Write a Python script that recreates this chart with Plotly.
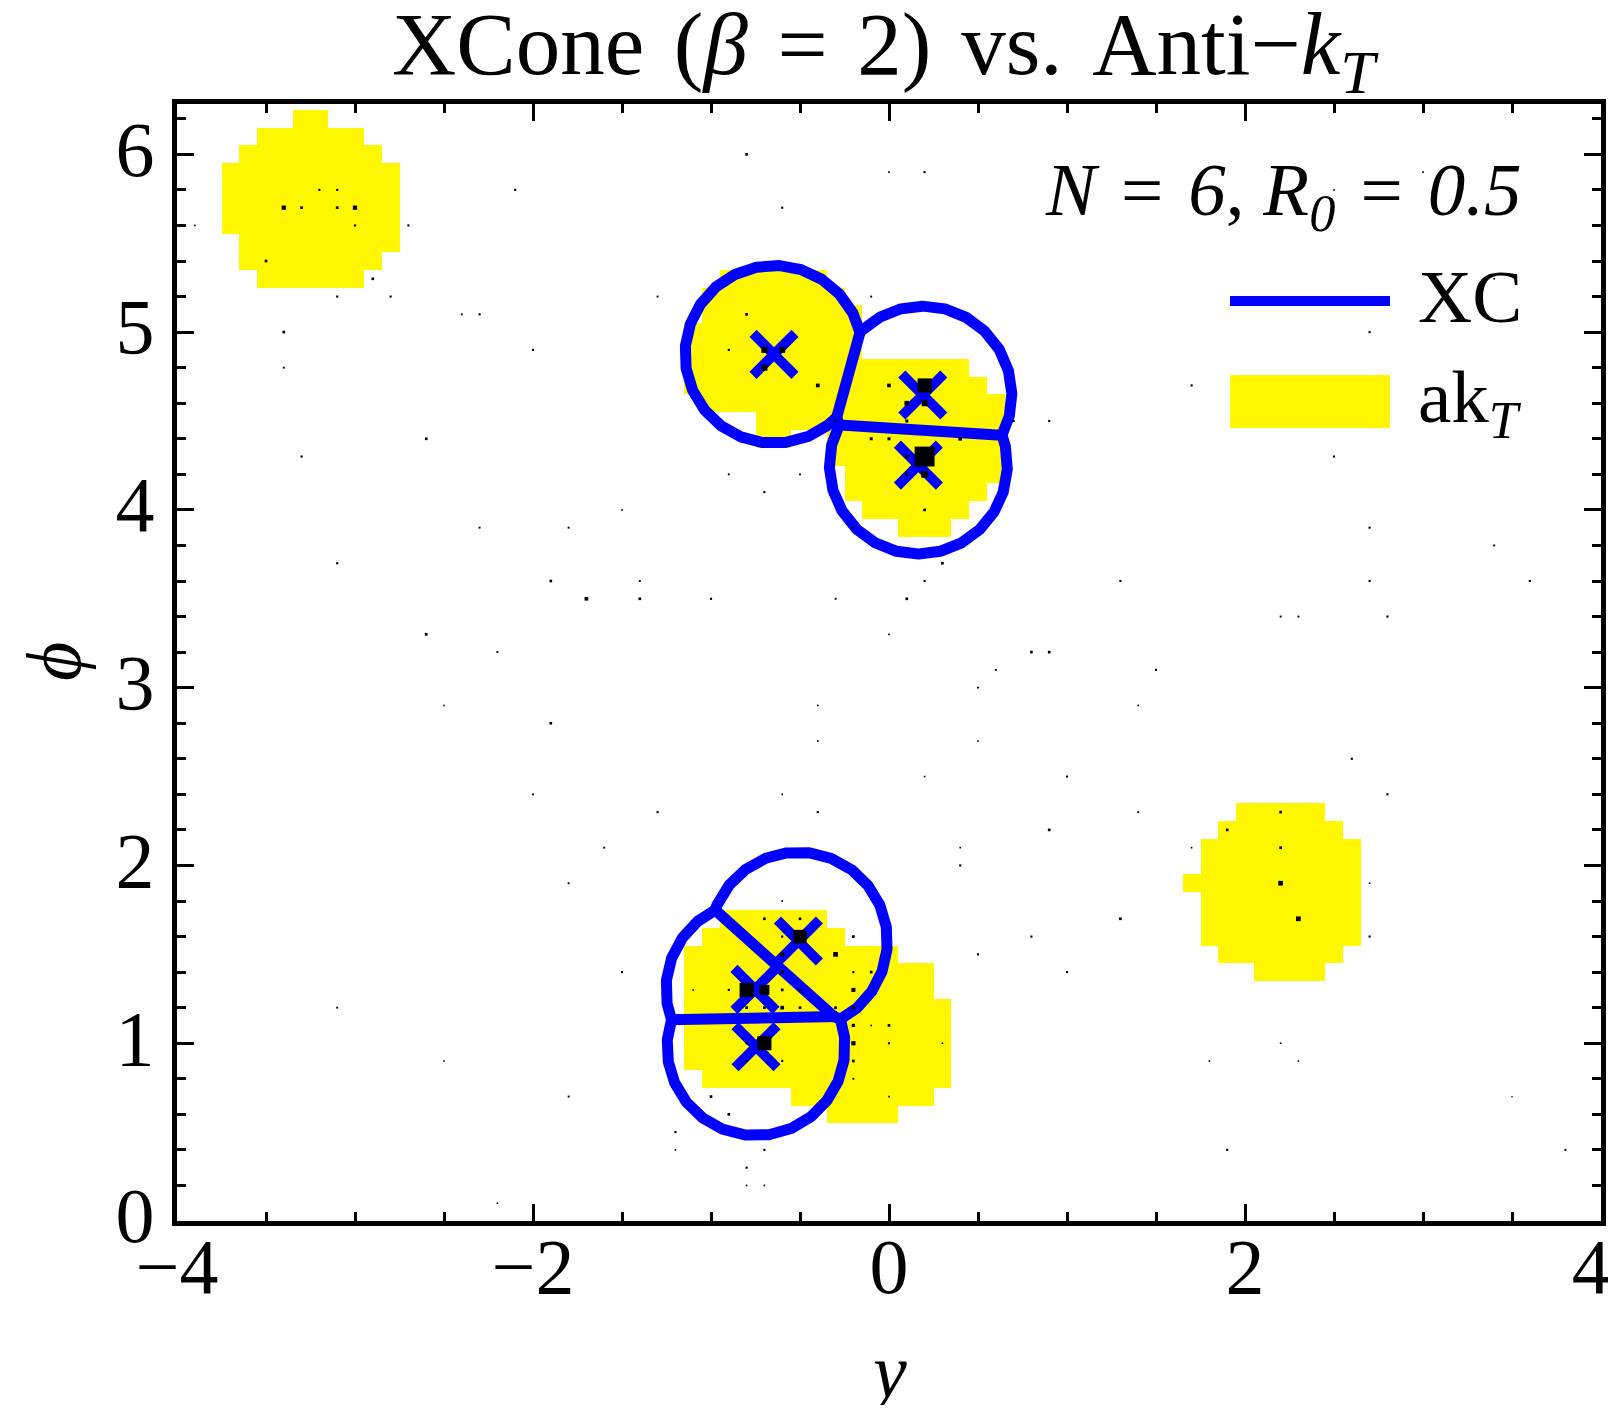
import numpy as np
import plotly.graph_objects as go

# ---------------- data ----------------
# anti-kT jet areas: each entry is one row of 0.1 x 0.1 cells (phi of row, first and last y cell centre)
AKT_ROW_PHI = [6.2, 6.1, 6.0, 5.9, 5.8, 5.7, 5.6, 5.5, 5.4, 5.3,
               5.3, 5.2, 5.1, 5.0, 4.9, 4.8, 4.7, 4.6, 4.5, 4.4, 4.4, 4.3, 4.2, 4.1, 4.0, 3.9,
               2.3, 2.2, 2.1, 2.0, 1.9, 1.8, 1.7, 1.6, 1.5, 1.4,
               1.7, 1.6, 1.5, 1.4, 1.3, 1.2, 1.1, 1.0, 0.9, 0.8, 0.7, 0.6]
AKT_ROW_YMIN = [-3.3, -3.5, -3.6, -3.7, -3.7, -3.7, -3.7, -3.6, -3.6, -3.5,
                -0.9, -1.0, -1.0, -1.1, -1.1, -1.1, -1.1, -1.0, -0.7, -0.7, -0.3, -0.3, -0.2, -0.2, -0.1, 0.1,
                2.0, 1.9, 1.8, 1.8, 1.7, 1.8, 1.8, 1.8, 1.9, 2.1,
                -0.9, -1.0, -1.1, -1.1, -1.1, -1.1, -1.1, -1.1, -1.1, -1.0, -0.5, -0.3]
AKT_ROW_YMAX = [-3.2, -3.0, -2.9, -2.8, -2.8, -2.8, -2.8, -2.8, -2.9, -3.0,
                -0.4, -0.3, -0.2, -0.2, -0.2, 0.4, 0.5, 0.6, 0.6, -0.6, 0.6, 0.6, 0.6, 0.5, 0.4, 0.3,
                2.4, 2.5, 2.6, 2.6, 2.6, 2.6, 2.6, 2.6, 2.5, 2.4,
                -0.4, -0.3, 0.0, 0.2, 0.2, 0.3, 0.3, 0.3, 0.3, 0.3, 0.2, 0.0]

# XCone jet axes
XC_Y = [-0.646, 0.19, 0.165, -0.509, -0.753, -0.747]
XC_PHI = [4.875, 4.646, 4.252, 1.575, 1.303, 0.980]
R0 = 0.5

# particles (y, phi, pT in arbitrary units)
P_Y = [-3.2, -3.1, -3.4, -3.3, -3.1, -3.0, -3.9, -3.0, -2.7, -3.5, -2.9, -3.1, -2.8,
       -0.8, 0.0, -2.1, -0.6, -1.3, -0.1, -2.4, -2.3, -0.8, -3.4, -2.0, -0.9, -0.7, -0.6,
       -3.4, -0.7, -0.4, 0.0, -0.3, -2.6, -0.1, 0.0, -3.3, -0.9, -0.5, -0.7, -1.5, -2.3,
       -1.8, -0.2, -3.1, -1.9, -1.4, -1.7, -1.4, -1.0, -0.3, -2.6, 0.0, -2.2,
       0.2, 2.5, 3.0, 3.1, 3.4, 2.7, 1.7, 0.2, 0.1, 0.2, 0.1, 0.7, 0.9, 0.4, 2.5, 0.1,
       0.2, 0.1, 0.2, 0.2, 2.7, 3.4, 0.3, 0.2, 1.3, 2.7, 3.6, 0.1, 2.2, 2.3, 2.8, 0.8, 0.9,
       -2.5, -0.4, -1.9, -0.4, -2.0, -0.6, -1.3, -0.4, -1.6, -1.8, -0.6, -0.7, -0.5,
       -0.5, -0.6, -0.2, -0.6, -0.3, -1.5, -0.6, -0.2, -0.1, -1.1, -0.9, -0.8, -0.7,
       -0.6, -0.5, -0.2, -3.1, -0.8, -0.7, -0.6, -0.5, -0.3, -0.2, -0.2, -0.1, 0.0,
       -0.8, -0.7, -0.2, 0.0, -2.5, -0.8, -0.6, -0.2, -0.2, -1.8, -1.0, 0.0, -0.9,
       -1.2, -0.8, -1.2, -0.7, -0.8, -0.8, -0.7, -2.2,
       0.6, 1.5, 0.5, 1.4, 0.5, 2.6, 0.2, 1.0, 2.8, 1.4, 2.2, 0.9, 1.9, 0.4, 1.7, 2.2,
       0.4, 2.2, 2.7, 1.3, 2.3, 0.8, 2.7, 0.5, 1.0, 0.3, 2.2, 1.8, 2.3, 3.5, 1.9, 3.8]
P_PHI = [5.8, 5.8, 5.7, 5.7, 5.7, 5.7, 5.6, 5.6, 5.6, 5.4, 5.3, 5.2, 5.2,
         6.0, 5.9, 5.8, 5.7, 5.2, 5.2, 5.1, 5.1, 5.1, 5.0, 4.9, 4.9, 4.9, 4.9,
         4.8, 4.8, 4.7, 4.7, 4.5, 4.4, 4.4, 4.4, 4.3, 4.2, 4.2, 4.1, 4.0, 3.9,
         3.9, 3.9, 3.7, 3.6, 3.6, 3.5, 3.5, 3.5, 3.5, 3.3, 3.3, 3.2,
         5.9, 5.8, 5.9, 5.9, 5.3, 5.0, 4.7, 4.7, 4.6, 4.6, 4.5, 4.5, 4.5, 4.4, 4.3, 4.3,
         4.3, 4.2, 4.2, 4.0, 3.9, 3.8, 3.7, 3.6, 3.6, 3.6, 3.6, 3.5, 3.4, 3.4, 3.4, 3.2, 3.2,
         2.9, 2.9, 2.8, 2.7, 2.4, 2.4, 2.3, 2.3, 2.1, 1.9, 1.8, 1.7, 1.7,
         1.6, 1.6, 1.6, 1.5, 1.5, 1.4, 1.4, 1.4, 1.4, 1.3, 1.3, 1.3, 1.3,
         1.3, 1.3, 1.3, 1.2, 1.2, 1.2, 1.2, 1.2, 1.2, 1.2, 1.1, 1.1, 1.1,
         1.0, 1.0, 1.0, 1.0, 0.9, 0.9, 0.9, 0.9, 0.8, 0.7, 0.7, 0.7, 0.6,
         0.5, 0.5, 0.4, 0.4, 0.3, 0.2, 0.2, 0.1,
         3.1, 3.1, 3.0, 2.9, 2.7, 2.6, 2.5, 2.5, 2.4, 2.3, 2.3, 2.2, 2.2, 2.1, 2.1, 2.1,
         2.0, 1.9, 1.9, 1.7, 1.7, 1.6, 1.6, 1.5, 1.4, 1.0, 1.0, 0.9, 0.9, 0.7, 0.4, 0.4]
P_PT = [0.5, 0.5, 2.0, 0.8, 0.8, 2.0, 0.3, 0.5, 0.5, 0.8, 0.8, 0.5, 0.5,
        0.8, 0.3, 0.5, 0.5, 0.4, 0.4, 0.4, 0.5, 0.8, 0.8, 0.5, 0.5, 4.0, 4.0,
        0.4, 4.0, 1.5, 1.5, 0.5, 0.8, 1.0, 1.0, 0.5, 0.4, 0.4, 0.5, 0.3, 0.4,
        0.4, 0.5, 0.5, 0.8, 0.4, 1.5, 0.8, 0.5, 0.4, 0.8, 0.3, 0.4,
        0.5, 0.3, 0.3, 0.3, 0.3, 0.5, 0.5, 22.0, 2.5, 4.0, 1.0, 0.5, 0.5, 1.5, 0.5, 1.5,
        44.0, 1.0, 5.0, 0.8, 0.5, 0.4, 0.8, 0.5, 0.5, 0.5, 0.5, 0.8, 0.4, 0.4, 0.5, 0.8, 0.8,
        0.3, 0.3, 0.8, 0.3, 0.4, 0.3, 0.5, 0.5, 0.4, 0.4, 0.3, 0.8, 0.8,
        20.0, 0.5, 0.8, 2.0, 2.5, 0.5, 1.2, 0.5, 0.8, 0.3, 0.5, 22.0, 11.0,
        0.8, 0.8, 1.8, 0.4, 0.8, 0.8, 1.5, 0.8, 0.8, 1.2, 1.2, 0.3, 0.8,
        0.5, 22.0, 2.0, 0.5, 0.3, 0.5, 0.5, 0.8, 0.4, 0.4, 0.8, 0.3, 0.8,
        0.5, 0.3, 0.3, 0.5, 0.5, 0.3, 0.3, 0.3,
        0.4, 0.5, 0.4, 0.3, 0.3, 0.5, 0.3, 0.5, 0.5, 0.4, 0.8, 0.8, 0.8, 0.3, 0.3, 0.8,
        0.5, 2.5, 0.3, 0.8, 2.5, 0.5, 0.5, 0.5, 0.5, 0.3, 0.3, 0.3, 0.3, 0.2, 0.5, 0.4]

SP = "\u2004"  # slightly wider space, as in the reference typesetting
TITLE = f"XCone{SP}(<i>β</i>{SP}={SP}2){SP}vs.{SP}Anti−<i>k</i><sub><i>T</i></sub>"
PARAMS = f"<i>N</i>{SP}={SP}<i>6</i>, <i>R</i><sub><i>0</i></sub>{SP}={SP}<i>0.5</i>"
X_TICKS = [-4, -2, 0, 2, 4]
X_TICKTEXT = ["−4", "−2", "0", "2", "4\u00a0"]
Y_TICKS = [0, 1, 2, 3, 4, 5, 6]

# ---------------- layout geometry (absolute page pixels) ----------------
PAGE_W, PAGE_H = 1616, 1413
BODY_MARGIN = 8  # default body margin of the html page
FIG_W, FIG_H = PAGE_W - 2 * BODY_MARGIN, PAGE_H - 2 * BODY_MARGIN
L, Rt, T, B = 177, 1601, 104, 1221  # plot area in page pixels


def ppx(x):
    return (x - L) / (Rt - L)


def ppy(y):
    return (B - y) / (B - T)


FONT = "Liberation Serif"
BLUE = "#0000FF"
YELLOW = "#FFF700"

# ---------------- anti-kT cell grid ----------------
ny, nphi = 81, 64
gy = np.round(np.arange(ny) * 0.1 - 4.0, 1)
gphi = np.round(np.arange(nphi) * 0.1, 1)
z = [[None] * ny for _ in range(nphi)]
for phi, y0, y1 in zip(AKT_ROW_PHI, AKT_ROW_YMIN, AKT_ROW_YMAX):
    r = int(round(phi * 10))
    for c in range(int(round((y0 + 4) * 10)), int(round((y1 + 4) * 10)) + 1):
        z[r][c] = 1

# ---------------- XCone region outlines ----------------
A = np.column_stack([XC_Y, XC_PHI])
n = len(A)


def dilate(mask, k, wrap=False):
    out = mask.copy()
    for s in range(1, k + 1):
        if wrap:
            out |= np.roll(mask, s) | np.roll(mask, -s)
        else:
            out[s:] |= mask[:-s]
            out[:-s] |= mask[s:]
    return out


def add_runs(xs, ys, mask, ox, oy, wrap=False):
    if mask.all():
        ox.extend(list(xs) + [xs[0], None])
        oy.extend(list(ys) + [ys[0], None])
        return
    if wrap:
        start = int(np.argmin(mask))
        xs = np.roll(xs, -start)
        ys = np.roll(ys, -start)
        mask = np.roll(mask, -start)
    on = False
    for xv, yv, m in zip(xs, ys, mask):
        if m:
            ox.append(xv)
            oy.append(yv)
            on = True
        elif on:
            ox.append(None)
            oy.append(None)
            on = False
    if on:
        ox.append(None)
        oy.append(None)


ox, oy = [], []
th = np.linspace(0, 2 * np.pi, 1440, endpoint=False)
for i in range(n):
    cx = A[i, 0] + R0 * np.cos(th)
    cy = A[i, 1] + R0 * np.sin(th)
    keep = np.ones_like(th, dtype=bool)
    for j in range(n):
        if j != i:
            keep &= np.hypot(cx - A[j, 0], cy - A[j, 1]) >= R0
    keep = dilate(keep, 6, wrap=True)
    add_runs(cx, cy, keep, ox, oy, wrap=True)

tt = np.linspace(-R0, R0, 801)
for i in range(n):
    for j in range(i + 1, n):
        d = A[j] - A[i]
        Ld = np.hypot(*d)
        if Ld >= 2 * R0:
            continue
        mid = (A[i] + A[j]) / 2
        perp = np.array([-d[1], d[0]]) / Ld
        bx = mid[0] + tt * perp[0]
        by = mid[1] + tt * perp[1]
        di = np.hypot(bx - A[i, 0], by - A[i, 1])
        keep = di <= R0
        for k in range(n):
            if k not in (i, j):
                keep &= np.hypot(bx - A[k, 0], by - A[k, 1]) >= di
        if not keep.any():
            continue
        keep = dilate(keep, 12)
        add_runs(bx, by, keep, ox, oy)

# ---------------- figure ----------------
fig = go.Figure()
fig.add_trace(go.Heatmap(
    x=gy, y=gphi, z=z, colorscale=[[0, YELLOW], [1, YELLOW]],
    showscale=False, zmin=0, zmax=1, hoverinfo="skip", zsmooth=False))
fig.add_trace(go.Scatter(x=ox, y=oy, mode="lines", line=dict(color=BLUE, width=11),
                         hoverinfo="skip", showlegend=False))
fig.add_trace(go.Scatter(x=XC_Y, y=XC_PHI, mode="markers",
                         marker=dict(symbol="x-thin", size=42, color=BLUE, opacity=1,
                                     line=dict(color=BLUE, width=10)),
                         hoverinfo="skip", showlegend=False))
sizes = [3.0 * np.sqrt(p) for p in P_PT]
fig.add_trace(go.Scatter(x=P_Y, y=P_PHI, mode="markers",
                         marker=dict(symbol="square", size=sizes, color="black", opacity=1,
                                     line=dict(width=0)),
                         hoverinfo="skip", showlegend=False))

axis_common = dict(
    showgrid=False, zeroline=False, showline=True, linewidth=5, linecolor="black",
    mirror="allticks", ticks="inside", ticklen=17, tickwidth=3, tickcolor="black",
    tickfont=dict(family=FONT, size=78, color="black"), automargin=False,
    ticklabeloverflow="allow",
)
fig.update_xaxes(range=[-4, 4], tickmode="array", tickvals=X_TICKS, ticktext=X_TICKTEXT,
                 minor=dict(dtick=0.5, tick0=0, ticks="inside", ticklen=9, tickwidth=3,
                            tickcolor="black", showgrid=False),
                 ticklabelstandoff=-27, **axis_common)
fig.update_yaxes(range=[0, 2 * np.pi], tickmode="array", tickvals=Y_TICKS,
                 ticktext=[str(v) for v in Y_TICKS],
                 minor=dict(dtick=0.2, tick0=0, ticks="inside", ticklen=9, tickwidth=3,
                            tickcolor="black", showgrid=False),
                 ticklabelstandoff=2, ticklabelshift=-6, **axis_common)

ann = []
ann.append(dict(text=TITLE, x=ppx(885), y=ppy(50), xref="paper", yref="paper",
                xanchor="center", yanchor="middle", showarrow=False,
                font=dict(family=FONT, size=89, color="black")))
ann.append(dict(text="<i>y</i>", x=ppx(886), y=ppy(1371), xref="paper", yref="paper",
                xanchor="center", yanchor="middle", showarrow=False,
                font=dict(family=FONT, size=76, color="black")))
ann.append(dict(text="<i>ϕ</i>", x=ppx(54), y=ppy(662), xref="paper", yref="paper",
                xanchor="center", yanchor="middle", showarrow=False, textangle=-90,
                font=dict(family=FONT, size=76, color="black")))
ann.append(dict(text=PARAMS, x=ppx(1524), y=ppy(195), xref="paper", yref="paper",
                xanchor="right", yanchor="middle", showarrow=False,
                font=dict(family=FONT, size=75, color="black")))
ann.append(dict(text="XC", x=ppx(1416), y=ppy(297), xref="paper", yref="paper",
                xanchor="left", yanchor="middle", showarrow=False,
                font=dict(family=FONT, size=75, color="black")))
ann.append(dict(text="ak<sub><i>T</i></sub>", x=ppx(1416), y=ppy(402), xref="paper", yref="paper",
                xanchor="left", yanchor="middle", showarrow=False,
                font=dict(family=FONT, size=75, color="black")))

shapes = [
    dict(type="line", xref="paper", yref="paper", x0=ppx(1230), x1=ppx(1390),
         y0=ppy(301), y1=ppy(301), line=dict(color=BLUE, width=10)),
    dict(type="rect", xref="paper", yref="paper", x0=ppx(1230), x1=ppx(1390),
         y0=ppy(428), y1=ppy(375), fillcolor=YELLOW, line=dict(width=0)),
]

fig.update_layout(
    width=FIG_W, height=FIG_H,
    margin=dict(l=L - BODY_MARGIN, r=FIG_W - (Rt - BODY_MARGIN),
                t=T - BODY_MARGIN, b=FIG_H - (B - BODY_MARGIN), pad=0),
    plot_bgcolor="white", paper_bgcolor="white",
    showlegend=False, annotations=ann, shapes=shapes,
    font=dict(family=FONT, color="black"),
)

fig.write_html("out.html")
